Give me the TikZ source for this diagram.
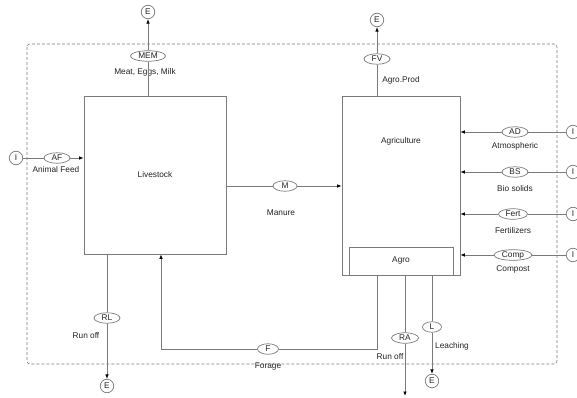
\documentclass[tikz,border=0pt]{standalone}
\usepackage{fontspec}
\setmainfont{Liberation Sans}
\usetikzlibrary{shapes.geometric,arrows.meta}
\definecolor{ln}{HTML}{7A7A7A}
\definecolor{tx}{HTML}{222222}
\tikzset{
  every node/.style={font=\fontsize{8.3}{10}\selectfont, text=tx},
  box/.style={draw=ln, line width=0.8pt, fill=white, inner sep=0pt},
  flow/.style={draw=ln, ellipse, line width=0.7pt, fill=white, inner sep=0pt, minimum height=10.5pt},
  term/.style={draw=ln, circle, line width=0.7pt, fill=white, inner sep=0pt, minimum size=13.5pt},
  lbl/.style={inner sep=0pt},
  ln/.style={draw=ln, line width=0.8pt},
  arr/.style={draw=ln, line width=0.8pt, -{Latex[length=4.5pt,width=3.6pt,black]}},
}
\begin{document}
\begin{tikzpicture}[x=1pt,y=-1pt]
\useasboundingbox (0,0) rectangle (577,398);
% system boundary
\draw[ln, line width=0.6pt, dash pattern=on 3pt off 2pt, rounded corners=3pt] (27,44) rectangle (557,364);
% boxes
\node[box, minimum width=142pt, minimum height=158pt] (live) at (155,175) {Livestock};
\node[box, minimum width=118pt, minimum height=179pt] (agri) at (401,185.5) {};
\node[lbl] (agrilbl) at (401,141) {Agriculture};
\node[box, minimum width=104pt, minimum height=28pt] (agro) at (401,261) {Agro};
% terminals
\node[term] (e1) at (148,12) {E};
\node[term] (e2) at (377,20) {E};
\node[term] (e3) at (107,386) {E};
\node[term] (e4) at (432,381) {E};
\node[term] (i1) at (16,158) {I};
\node[term] (i2) at (573,132) {I};
\node[term] (i3) at (573,172) {I};
\node[term] (i4) at (573,214) {I};
\node[term] (i5) at (573,255) {I};
% flows
\node[flow, minimum width=35pt] (mem) at (148,56) {MEM};
\node[flow, minimum width=26pt] (af) at (57,158) {AF};
\node[flow, minimum width=24pt] (m) at (285,186) {M};
\node[flow, minimum width=26pt] (fv) at (377,59) {FV};
\node[flow, minimum width=26pt] (ad) at (515,132) {AD};
\node[flow, minimum width=26pt] (bs) at (515,172) {BS};
\node[flow, minimum width=29pt] (fert) at (513,214) {Fert};
\node[flow, minimum width=38pt] (comp) at (513,255) {Comp};
\node[flow, minimum width=26pt] (rl) at (107,318) {RL};
\node[flow, minimum width=21pt] (f) at (268,349) {F};
\node[flow, minimum width=27pt] (ra) at (405,338) {RA};
\node[flow, minimum width=19pt] (l) at (432,327) {L};
% labels
\node[lbl] at (145,72) {Meat, Eggs, Milk};
\node[lbl] at (56,170) {Animal Feed};
\node[lbl] at (281,213) {Manure};
\node[lbl] at (401,80) {Agro.Prod};
\node[lbl] at (515,146) {Atmospheric};
\node[lbl] at (515,189) {Bio solids};
\node[lbl] at (513,231) {Fertilizers};
\node[lbl] at (513,269) {Compost};
\node[lbl] at (86,336) {Run off};
\node[lbl] at (268,367) {Forage};
\node[lbl] at (390,357) {Run off};
\node[lbl] at (452,346) {Leaching};
% coordinates
\coordinate (fa) at (377,349);
\coordinate (fb) at (161,349);
\coordinate (raend) at (405,396);
% connectors
\draw[ln] (live.north -| mem) -- (mem);
\draw[arr] (mem) -- (e1);
\draw[ln] (i1) -- (af);
\draw[arr] (af) -- (af -| live.west);
\draw[ln] (live.east |- m) -- (m);
\draw[arr] (m) -- (m -| agri.west);
\draw[ln] (agri.north -| fv) -- (fv);
\draw[arr] (fv) -- (e2);
\draw[ln] (i2) -- (ad);
\draw[arr] (ad) -- (ad -| agri.east);
\draw[ln] (i3) -- (bs);
\draw[arr] (bs) -- (bs -| agri.east);
\draw[ln] (i4) -- (fert);
\draw[arr] (fert) -- (fert -| agri.east);
\draw[ln] (i5) -- (comp);
\draw[arr] (comp) -- (comp -| agri.east);
\draw[ln] (live.south -| rl) -- (rl);
\draw[arr] (rl) -- (e3);
\draw[ln] (agri.south -| fa) -- (fa) -- (f);
\draw[arr] (f) -- (fb) -- (live.south -| fb);
\draw[ln] (agri.south -| ra) -- (ra);
\draw[arr] (ra) -- (raend);
\draw[ln] (agri.south -| l) -- (l);
\draw[arr] (l) -- (e4);
\end{tikzpicture}
\end{document}
